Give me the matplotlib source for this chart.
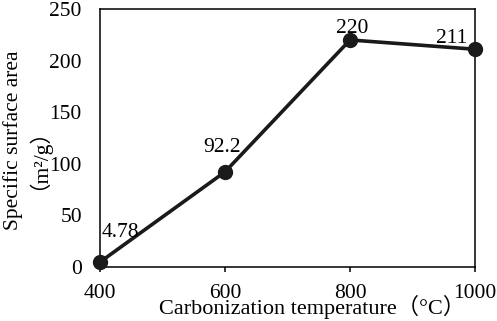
import matplotlib.pyplot as plt

temps = [400, 600, 800, 1000]
area = [4.78, 92.2, 220, 211]
labels = ['4.78', '92.2', '220', '211']

fonts = ['Liberation Serif', 'Noto Sans CJK SC']
plt.rcParams['font.family'] = fonts
plt.rcParams['font.size'] = 15.5

fig = plt.figure(figsize=(4.97, 3.21), dpi=100)
ax = fig.add_axes([0.201, 0.168, 0.755, 0.804])
ax.plot(temps, area, color='#1a1a1a', lw=2.6, marker='o', ms=10, clip_on=False, zorder=3)

# label placement (offset in points, alignment)
offsets = [(1.5, 18), (-2.5, 14), (1.5, 5), (-6, 4.5)]
aligns = ['left', 'center', 'center', 'right']
for t, a, s, off, ha in zip(temps, area, labels, offsets, aligns):
    ax.annotate(s, (t, a), xytext=off, textcoords='offset points',
                ha=ha, va='baseline', fontsize=15.5)

ax.set_xlim(400, 1000)
ax.set_ylim(0, 250)
ax.set_xticks([400, 600, 800, 1000])
ax.set_yticks([0, 50, 100, 150, 200, 250])
ax.tick_params(axis='x', direction='out', length=3.5, width=1.1, pad=9)
ax.tick_params(axis='y', length=0, pad=13)
for sp in ax.spines.values():
    sp.set_linewidth(1.1)

fig.text(312 / 497, 1 - 314 / 321, 'Carbonization temperature（°C）',
         ha='center', va='baseline', fontsize=16)
fig.text(13 / 497, 1 - 140 / 321, 'Specific surface area', rotation=90,
         ha='center', va='center', fontsize=15.5)
fig.text(27 / 497, 1 - 149 / 321, '（m²/g）', rotation=90,
         ha='center', va='center', fontsize=15.5)

fig.savefig('out.png', dpi=100)
